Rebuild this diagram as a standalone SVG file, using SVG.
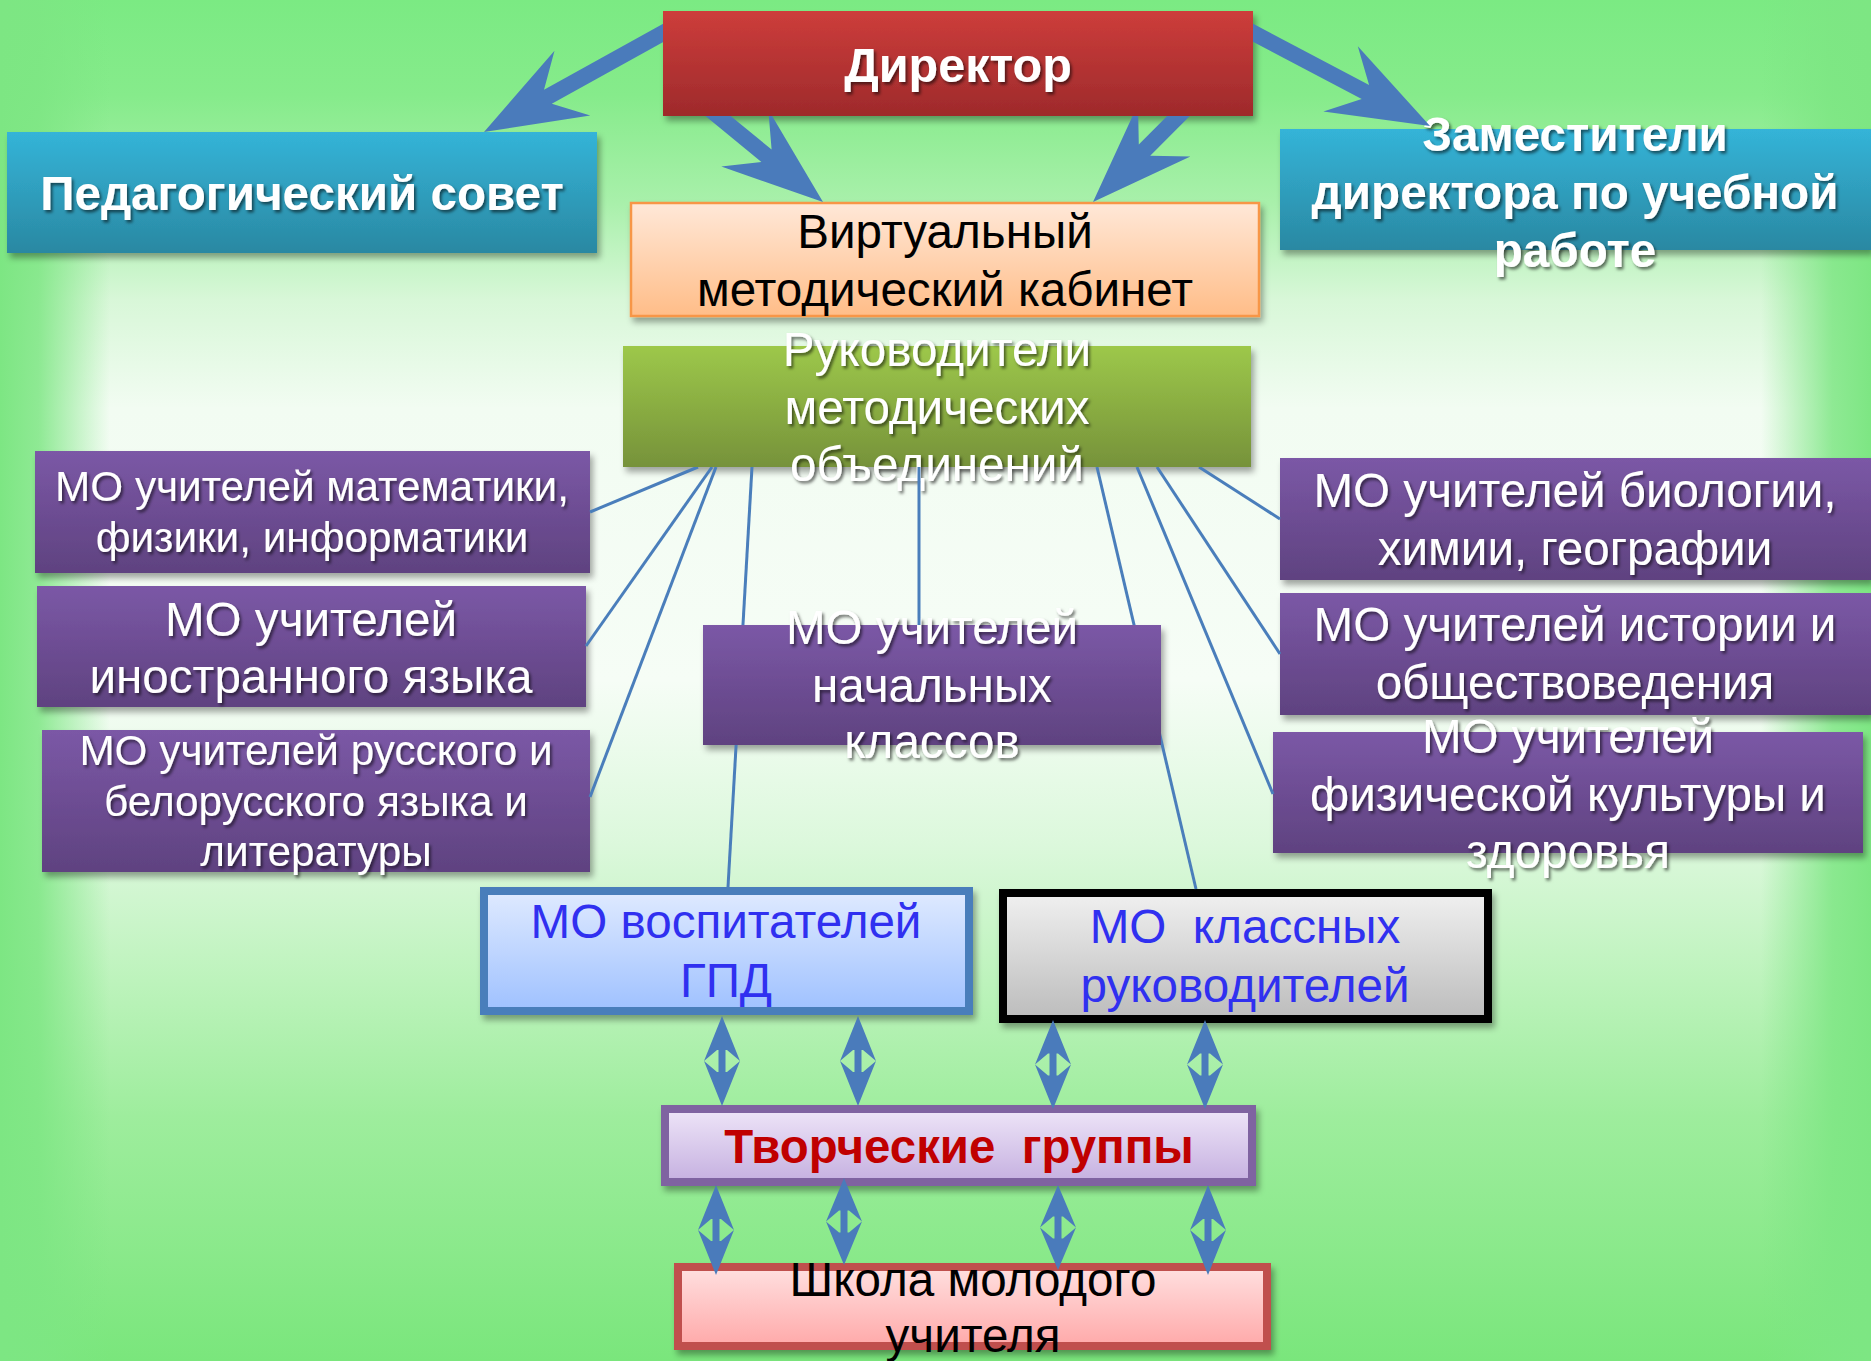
<svg xmlns="http://www.w3.org/2000/svg" width="1871" height="1361" viewBox="0 0 1871 1361">
<defs>
<style>
.t{font-family:'Liberation Sans',Arial,sans-serif;text-anchor:middle}
.b{font-weight:bold}
.w{fill:#fff;filter:url(#ts)}
.k{fill:#000}
.bl{fill:#3030f0}
.ln{stroke:#4a7ebb;stroke-width:3;fill:none}
.ar{fill:#4a7bbb}
.box{filter:url(#bs)}
</style>
<filter id="ts" x="-10%" y="-40%" width="120%" height="180%"><feDropShadow dx="2" dy="2.5" stdDeviation="1.5" flood-color="#000" flood-opacity="0.55"/></filter>
<filter id="bs" x="-5%" y="-10%" width="112%" height="130%"><feDropShadow dx="3" dy="5" stdDeviation="3" flood-color="#000" flood-opacity="0.35"/></filter>
<linearGradient id="bgV" x1="0" y1="0" x2="0" y2="1">
<stop offset="0" stop-color="#7bea83"/>
<stop offset="0.07" stop-color="#86eb8b"/>
<stop offset="0.15" stop-color="#a9f0ab"/>
<stop offset="0.22" stop-color="#d8f7d8"/>
<stop offset="0.3" stop-color="#f2fcf2"/>
<stop offset="0.5" stop-color="#f6fdf6"/>
<stop offset="0.62" stop-color="#dcf8dc"/>
<stop offset="0.72" stop-color="#bdf3bc"/>
<stop offset="0.82" stop-color="#9eed9d"/>
<stop offset="1" stop-color="#7ae67c"/>
</linearGradient>
<linearGradient id="bgL" x1="0" y1="0" x2="1" y2="0">
<stop offset="0" stop-color="#7de683"/>
<stop offset="0.35" stop-color="#7de683" stop-opacity="0.85"/>
<stop offset="1" stop-color="#7de683" stop-opacity="0"/>
</linearGradient>
<linearGradient id="bgR" x1="1" y1="0" x2="0" y2="0">
<stop offset="0" stop-color="#7de683"/>
<stop offset="0.35" stop-color="#7de683" stop-opacity="0.85"/>
<stop offset="1" stop-color="#7de683" stop-opacity="0"/>
</linearGradient>
<linearGradient id="gRed" x1="0" y1="0" x2="0" y2="1"><stop offset="0" stop-color="#cd3d3b"/><stop offset="1" stop-color="#9e2a2b"/></linearGradient>
<linearGradient id="gBlue" x1="0" y1="0" x2="0" y2="1"><stop offset="0" stop-color="#34b4d8"/><stop offset="1" stop-color="#2a88a2"/></linearGradient>
<linearGradient id="gOrange" x1="0" y1="0" x2="0" y2="1"><stop offset="0" stop-color="#ffe8d8"/><stop offset="1" stop-color="#ffbd88"/></linearGradient>
<linearGradient id="gGreen" x1="0" y1="0" x2="0" y2="1"><stop offset="0" stop-color="#9dc84a"/><stop offset="1" stop-color="#76923a"/></linearGradient>
<linearGradient id="gPurple" x1="0" y1="0" x2="0" y2="1"><stop offset="0" stop-color="#7b58a6"/><stop offset="1" stop-color="#5f4280"/></linearGradient>
<linearGradient id="gLB" x1="0" y1="0" x2="0" y2="1"><stop offset="0" stop-color="#dfeaff"/><stop offset="1" stop-color="#9fc1ff"/></linearGradient>
<linearGradient id="gGray" x1="0" y1="0" x2="0" y2="1"><stop offset="0" stop-color="#f0f0f0"/><stop offset="1" stop-color="#bcbcbc"/></linearGradient>
<linearGradient id="gLav" x1="0" y1="0" x2="0" y2="1"><stop offset="0" stop-color="#eee5f8"/><stop offset="1" stop-color="#c5b0e0"/></linearGradient>
<linearGradient id="gPink" x1="0" y1="0" x2="0" y2="1"><stop offset="0" stop-color="#ffe0e0"/><stop offset="1" stop-color="#ffa9a9"/></linearGradient>
<clipPath id="clipBoxes"><path clip-rule="evenodd" d="M0 0H1871V1361H0Z M663 11H1253V116H663Z M623 346H1251V467H623Z M703 625H1161V745H703Z"/></clipPath>
</defs>

<g id="background">
<rect x="0" y="0" width="1871" height="1361" fill="url(#bgV)"/>
<rect x="0" y="0" width="110" height="1361" fill="url(#bgL)"/>
<rect x="1761" y="0" width="110" height="1361" fill="url(#bgR)"/>
</g>

<g id="nodes">
<g id="director">
<rect class="box" x="663" y="11" width="590" height="105" fill="url(#gRed)"/>
<text class="t b w" x="958" y="82" font-size="48.5">Директор</text>
</g>
<g id="ped-council">
<rect class="box" x="7" y="132" width="590" height="121" fill="url(#gBlue)"/>
<text class="t b w" x="302" y="210" font-size="47.6">Педагогический совет</text>
</g>
<g id="deputies">
<rect class="box" x="1280" y="129" width="591" height="121" fill="url(#gBlue)"/>
<text class="t b w" font-size="47.6"><tspan x="1575" y="151">Заместители</tspan><tspan x="1575" y="209">директора по учебной</tspan><tspan x="1575" y="267">работе</tspan></text>
</g>
<g id="virtual-cabinet">
<rect class="box" x="631" y="203" width="628" height="113" fill="url(#gOrange)" stroke="#f79646" stroke-width="2.5"/>
<text class="t k" font-size="47.6"><tspan x="945" y="248">Виртуальный</tspan><tspan x="945" y="306">методический кабинет</tspan></text>
</g>
<g id="heads-mo">
<rect class="box" x="623" y="346" width="628" height="121" fill="url(#gGreen)"/>
<text class="t w" font-size="47.6"><tspan x="937" y="366">Руководители</tspan><tspan x="937" y="424">методических</tspan><tspan x="937" y="481">объединений</tspan></text>
</g>
<g id="mo-math">
<rect class="box" x="35" y="451" width="555" height="122" fill="url(#gPurple)"/>
<text class="t w" font-size="42.3"><tspan x="312" y="501">МО учителей математики,</tspan><tspan x="312" y="552">физики, информатики</tspan></text>
</g>
<g id="mo-foreign">
<rect class="box" x="37" y="586" width="549" height="121" fill="url(#gPurple)"/>
<text class="t w" font-size="47.6"><tspan x="311" y="636">МО учителей</tspan><tspan x="311" y="693">иностранного языка</tspan></text>
</g>
<g id="mo-russian">
<rect class="box" x="42" y="730" width="548" height="142" fill="url(#gPurple)"/>
<text class="t w" font-size="42.3"><tspan x="316" y="765">МО учителей русского и</tspan><tspan x="316" y="816">белорусского языка и</tspan><tspan x="316" y="866">литературы</tspan></text>
</g>
<g id="mo-primary">
<rect class="box" x="703" y="625" width="458" height="120" fill="url(#gPurple)"/>
<text class="t w" font-size="47.6"><tspan x="932" y="644">МО учителей</tspan><tspan x="932" y="702">начальных</tspan><tspan x="932" y="758">классов</tspan></text>
</g>
<g id="mo-biology">
<rect class="box" x="1280" y="458" width="591" height="122" fill="url(#gPurple)"/>
<text class="t w" font-size="47.6"><tspan x="1575" y="507">МО учителей биологии,</tspan><tspan x="1575" y="565">химии, географии</tspan></text>
</g>
<g id="mo-history">
<rect class="box" x="1280" y="593" width="591" height="122" fill="url(#gPurple)"/>
<text class="t w" font-size="47.6"><tspan x="1575" y="641">МО учителей истории и</tspan><tspan x="1575" y="699">обществоведения</tspan></text>
</g>
<g id="mo-pe">
<rect class="box" x="1273" y="732" width="590" height="121" fill="url(#gPurple)"/>
<text class="t w" font-size="47.6"><tspan x="1568" y="753">МО учителей</tspan><tspan x="1568" y="811">физической культуры и</tspan><tspan x="1568" y="868">здоровья</tspan></text>
</g>
<g id="mo-gpd">
<rect class="box" x="484" y="891" width="485" height="120" fill="url(#gLB)" stroke="#4a7ebb" stroke-width="8"/>
<text class="t bl" font-size="47.6"><tspan x="726" y="938">МО воспитателей</tspan><tspan x="726" y="997">ГПД</tspan></text>
</g>
<g id="mo-class-teachers">
<rect class="box" x="1003" y="893" width="485" height="126" fill="url(#gGray)" stroke="#000" stroke-width="8"/>
<text class="t bl" font-size="47.6" xml:space="preserve"><tspan x="1245" y="943">МО  классных</tspan><tspan x="1245" y="1002">руководителей</tspan></text>
</g>
<g id="creative-groups">
<rect class="box" x="665" y="1109" width="587" height="73" fill="url(#gLav)" stroke="#7f63a1" stroke-width="8"/>
<text class="t b" x="959" y="1163" font-size="47.4" fill="#c00000" xml:space="preserve">Творческие  группы</text>
</g>
<g id="young-teacher-school">
<rect class="box" x="678" y="1267" width="589" height="79" fill="url(#gPink)" stroke="#c0504d" stroke-width="8"/>
<text class="t k" font-size="47.6"><tspan x="973" y="1296">Школа молодого</tspan><tspan x="973" y="1352">учителя</tspan></text>
</g>
</g>

<g id="connectors">
<g clip-path="url(#clipBoxes)">
<polygon class="ar" points="685.7,11.3 544,89.7 554.5,50.7 484,132 590.3,115.5 551.8,103.7 693.5,25.3"/>
<polygon class="ar" points="701.8,113.1 761.4,161.9 721.3,166.6 823,202 768.3,109.4 771.6,149.5 712,100.7"/>
<polygon class="ar" points="1193.1,90.1 1138.8,144.6 1138,104.3 1093,202 1190.4,156.5 1150.2,155.8 1204.5,101.3"/>
<polygon class="ar" points="1240.5,35.2 1361.7,99.1 1323.4,111.6 1430,126 1357.8,46.2 1369.1,84.9 1247.9,21"/>
<line class="ln" x1="698" y1="467" x2="590" y2="512"/>
<line class="ln" x1="712" y1="467" x2="586" y2="646"/>
<line class="ln" x1="716" y1="467" x2="590" y2="797"/>
<line class="ln" x1="752" y1="467" x2="728" y2="887"/>
<line class="ln" x1="919" y1="467" x2="919" y2="625"/>
<line class="ln" x1="1097" y1="467" x2="1196" y2="889"/>
<line class="ln" x1="1137" y1="467" x2="1273" y2="794"/>
<line class="ln" x1="1157" y1="467" x2="1280" y2="654"/>
<line class="ln" x1="1199" y1="467" x2="1280" y2="519"/>
</g>
<path class="ar" d="M722,1016 L740,1061 L727,1050 L717,1050 L704,1061 Z M722,1106 L704,1061 L717,1072 L727,1072 L740,1061 Z M718.5,1049 h7 v24 h-7 Z"/>
<path class="ar" d="M858,1016 L876,1061 L863,1050 L853,1050 L840,1061 Z M858,1106 L840,1061 L853,1072 L863,1072 L876,1061 Z M854.5,1049 h7 v24 h-7 Z"/>
<path class="ar" d="M1053,1020 L1071,1064.5 L1058,1053.5 L1048,1053.5 L1035,1064.5 Z M1053,1109 L1035,1064.5 L1048,1075.5 L1058,1075.5 L1071,1064.5 Z M1049.5,1052.5 h7 v24 h-7 Z"/>
<path class="ar" d="M1205,1020 L1223,1064.5 L1210,1053.5 L1200,1053.5 L1187,1064.5 Z M1205,1109 L1187,1064.5 L1200,1075.5 L1210,1075.5 L1223,1064.5 Z M1201.5,1052.5 h7 v24 h-7 Z"/>
<path class="ar" d="M716,1185 L734,1230 L721,1219 L711,1219 L698,1230 Z M716,1275 L698,1230 L711,1241 L721,1241 L734,1230 Z M712.5,1218 h7 v24 h-7 Z"/>
<path class="ar" d="M844,1178 L862,1221.5 L849,1210.5 L839,1210.5 L826,1221.5 Z M844,1265 L826,1221.5 L839,1232.5 L849,1232.5 L862,1221.5 Z M840.5,1209.5 h7 v24 h-7 Z"/>
<path class="ar" d="M1058,1185 L1076,1227.5 L1063,1216.5 L1053,1216.5 L1040,1227.5 Z M1058,1270 L1040,1227.5 L1053,1238.5 L1063,1238.5 L1076,1227.5 Z M1054.5,1215.5 h7 v24 h-7 Z"/>
<path class="ar" d="M1208,1185 L1226,1230 L1213,1219 L1203,1219 L1190,1230 Z M1208,1275 L1190,1230 L1203,1241 L1213,1241 L1226,1230 Z M1204.5,1218 h7 v24 h-7 Z"/>
</g>
</svg>
